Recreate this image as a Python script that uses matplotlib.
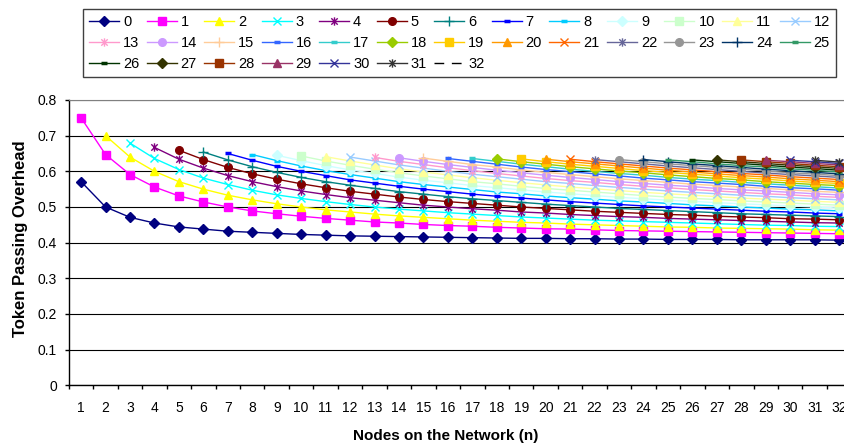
import matplotlib.pyplot as plt
from matplotlib.path import Path

plt.rcParams['font.family'] = ['Liberation Sans', 'DejaVu Sans']

nodes = [1, 2, 3, 4, 5, 6, 7, 8, 9, 10, 11, 12, 13, 14, 15, 16,
         17, 18, 19, 20, 21, 22, 23, 24, 25, 26, 27, 28, 29, 30, 31, 32]
node_labels = ['1', '2', '3', '4', '5', '6', '7', '8', '9', '10', '11', '12', '13', '14', '15', '16',
               '17', '18', '19', '20', '21', '22', '23', '24', '25', '26', '27', '28', '29', '30', '31', '32']
series_labels = ['0', '1', '2', '3', '4', '5', '6', '7', '8', '9', '10', '11', '12', '13', '14', '15', '16',
                 '17', '18', '19', '20', '21', '22', '23', '24', '25', '26', '27', '28', '29', '30', '31', '32']
y_ticks = [0, 0.1, 0.2, 0.3, 0.4, 0.5, 0.6, 0.7, 0.8]
y_tick_labels = ['0', '0.1', '0.2', '0.3', '0.4', '0.5', '0.6', '0.7', '0.8']

# each series ends at n = 32, it starts later the higher its number
s0 = [0.571, 0.500, 0.471, 0.455, 0.444, 0.438, 0.432, 0.429, 0.426, 0.423, 0.421, 0.419, 0.418, 0.417, 0.416, 0.415,
      0.414, 0.413, 0.412, 0.412, 0.411, 0.411, 0.410, 0.410, 0.409, 0.409, 0.409, 0.408, 0.408, 0.408, 0.408, 0.407]
s1 = [0.750, 0.647, 0.591, 0.556, 0.531, 0.514, 0.500, 0.489, 0.481, 0.474, 0.468, 0.463, 0.458, 0.455, 0.451, 0.448,
      0.446, 0.443, 0.441, 0.439, 0.438, 0.436, 0.434, 0.433, 0.432, 0.431, 0.430, 0.429, 0.428, 0.427, 0.426, 0.425]
s2 = [0.700, 0.640, 0.600, 0.571, 0.550, 0.533, 0.520, 0.509, 0.500, 0.492, 0.486, 0.480, 0.475, 0.471, 0.467, 0.463,
      0.460, 0.457, 0.455, 0.452, 0.450, 0.448, 0.446, 0.444, 0.443, 0.441, 0.440, 0.439, 0.438, 0.436, 0.435]
s3 = [0.679, 0.636, 0.605, 0.581, 0.563, 0.547, 0.534, 0.524, 0.515, 0.507, 0.500, 0.494, 0.489, 0.484, 0.480,
      0.476, 0.472, 0.469, 0.466, 0.463, 0.461, 0.459, 0.457, 0.455, 0.453, 0.451, 0.449, 0.448, 0.446, 0.445]
s4 = [0.667, 0.634, 0.609, 0.588, 0.571, 0.557, 0.545, 0.535, 0.526, 0.519, 0.512, 0.505, 0.500, 0.495, 0.491,
      0.486, 0.483, 0.479, 0.476, 0.473, 0.471, 0.468, 0.466, 0.464, 0.462, 0.460, 0.458, 0.456, 0.455]
s5 = [0.659, 0.633, 0.611, 0.593, 0.578, 0.565, 0.554, 0.544, 0.536, 0.528, 0.521, 0.515, 0.510, 0.505,
      0.500, 0.496, 0.492, 0.488, 0.485, 0.482, 0.479, 0.477, 0.474, 0.472, 0.470, 0.467, 0.466, 0.464]
s6 = [0.654, 0.632, 0.613, 0.597, 0.583, 0.571, 0.561, 0.552, 0.543, 0.536, 0.529, 0.523, 0.518, 0.513,
      0.508, 0.504, 0.500, 0.496, 0.493, 0.490, 0.487, 0.484, 0.481, 0.479, 0.477, 0.475, 0.473]
s7 = [0.650, 0.631, 0.614, 0.600, 0.588, 0.576, 0.567, 0.558, 0.550, 0.543, 0.536, 0.530, 0.525,
      0.520, 0.515, 0.511, 0.507, 0.503, 0.500, 0.497, 0.494, 0.491, 0.488, 0.486, 0.483, 0.481]
s8 = [0.647, 0.630, 0.615, 0.602, 0.591, 0.581, 0.571, 0.563, 0.556, 0.549, 0.542, 0.537, 0.531,
      0.526, 0.522, 0.517, 0.514, 0.510, 0.506, 0.503, 0.500, 0.497, 0.494, 0.492, 0.489]
s9 = [0.645, 0.630, 0.616, 0.604, 0.594, 0.584, 0.575, 0.568, 0.560, 0.554, 0.548, 0.542,
      0.537, 0.532, 0.527, 0.523, 0.519, 0.516, 0.512, 0.509, 0.506, 0.503, 0.500, 0.497]
s10 = [0.643, 0.629, 0.617, 0.606, 0.596, 0.587, 0.579, 0.571, 0.565, 0.558, 0.552, 0.547,
       0.542, 0.537, 0.532, 0.528, 0.524, 0.521, 0.517, 0.514, 0.511, 0.508, 0.505]
s11 = [0.641, 0.629, 0.618, 0.607, 0.598, 0.590, 0.582, 0.575, 0.568, 0.562, 0.556,
       0.551, 0.546, 0.541, 0.537, 0.533, 0.529, 0.525, 0.522, 0.519, 0.516, 0.513]
s12 = [0.640, 0.629, 0.618, 0.609, 0.600, 0.592, 0.585, 0.578, 0.571, 0.566, 0.560,
       0.555, 0.550, 0.545, 0.541, 0.537, 0.533, 0.530, 0.526, 0.523, 0.520]
s13 = [0.639, 0.628, 0.619, 0.610, 0.602, 0.594, 0.587, 0.580, 0.574, 0.569,
       0.563, 0.558, 0.554, 0.549, 0.545, 0.541, 0.537, 0.534, 0.530, 0.527]
s14 = [0.638, 0.628, 0.619, 0.611, 0.603, 0.596, 0.589, 0.583, 0.577, 0.571,
       0.566, 0.561, 0.557, 0.552, 0.548, 0.545, 0.541, 0.537, 0.534]
s15 = [0.637, 0.628, 0.619, 0.612, 0.604, 0.597, 0.591, 0.585, 0.579,
       0.574, 0.569, 0.564, 0.560, 0.556, 0.552, 0.548, 0.544, 0.541]
s16 = [0.636, 0.628, 0.620, 0.612, 0.605, 0.599, 0.593, 0.587, 0.581,
       0.576, 0.571, 0.567, 0.563, 0.558, 0.554, 0.551, 0.547]
s17 = [0.636, 0.628, 0.620, 0.613, 0.606, 0.600, 0.594, 0.589,
       0.583, 0.578, 0.574, 0.569, 0.565, 0.561, 0.557, 0.553]
s18 = [0.635, 0.627, 0.620, 0.613, 0.607, 0.601, 0.596, 0.590,
       0.585, 0.580, 0.576, 0.571, 0.567, 0.563, 0.560]
s19 = [0.635, 0.627, 0.620, 0.614, 0.608, 0.602, 0.597,
       0.592, 0.587, 0.582, 0.578, 0.573, 0.569, 0.566]
s20 = [0.634, 0.627, 0.621, 0.615, 0.609, 0.603, 0.598,
       0.593, 0.588, 0.584, 0.579, 0.575, 0.571]
s21 = [0.634, 0.627, 0.621, 0.615, 0.609, 0.604, 0.599, 0.594, 0.590, 0.585, 0.581, 0.577]
s22 = [0.633, 0.627, 0.621, 0.615, 0.610, 0.605, 0.600, 0.595, 0.591, 0.587, 0.583]
s23 = [0.633, 0.627, 0.621, 0.616, 0.611, 0.606, 0.601, 0.596, 0.592, 0.588]
s24 = [0.633, 0.627, 0.621, 0.616, 0.611, 0.606, 0.602, 0.597, 0.593]
s25 = [0.632, 0.627, 0.621, 0.616, 0.612, 0.607, 0.603, 0.598]
s26 = [0.632, 0.627, 0.622, 0.617, 0.612, 0.608, 0.603]
s27 = [0.632, 0.627, 0.622, 0.617, 0.613, 0.608]
s28 = [0.632, 0.627, 0.622, 0.617, 0.613]
s29 = [0.631, 0.627, 0.622, 0.618]
s30 = [0.631, 0.627, 0.622]
s31 = [0.631, 0.626]
s32 = [0.631]

all_series = [s0, s1, s2, s3, s4, s5, s6, s7, s8, s9, s10, s11, s12, s13, s14, s15, s16,
              s17, s18, s19, s20, s21, s22, s23, s24, s25, s26, s27, s28, s29, s30, s31, s32]

# excel 2003 default series colours
line_colors = ['#000080', '#FF00FF', '#FFFF00', '#00FFFF', '#800080', '#800000', '#008080', '#0000FF',
               '#00CCFF', '#CCFFFF', '#CCFFCC', '#FFFF99', '#99CCFF', '#FF99CC', '#CC99FF', '#FFCC99',
               '#3366FF', '#33CCCC', '#99CC00', '#FFCC00', '#FF9900', '#FF6600', '#666699', '#969696',
               '#003366', '#339966', '#003300', '#333300', '#993300', '#993366', '#333399', '#333333',
               '#000000']

# excel "star" marker: an x with a vertical bar through it
STAR = Path([(-1, -1), (1, 1), (-1, 1), (1, -1), (0, -1.3), (0, 1.3)],
            [Path.MOVETO, Path.LINETO, Path.MOVETO, Path.LINETO, Path.MOVETO, Path.LINETO])
marker_cycle = ['D', 's', '^', 'x', STAR, 'o', '+', '_', '_']
marker_size = {'D': 5, 's': 5.5, '^': 6, 'x': 5.5, 'o': 5.5, '+': 7, '_': 4.5}
marker_width = {'D': 1, 's': 1, '^': 1, 'x': 1, 'o': 1, '+': 1, '_': 2.5}

fig = plt.figure(figsize=(8.45, 4.46), dpi=100)
ax = fig.add_axes([0.0815, 0.1361, 0.926, 0.6397])

for i, (vals, label, color) in enumerate(zip(all_series, series_labels, line_colors)):
    xs = nodes[len(nodes) - len(vals):]
    if i == 32:
        ax.plot(xs, vals, color=color, lw=1, dashes=(7, 5.5), label=label)
        continue
    m = marker_cycle[i % 9]
    key = 'star' if m is STAR else m
    ax.plot(xs, vals, color=color, lw=1, marker=m,
            ms=marker_size.get(key, 6), mew=marker_width.get(key, 1),
            mfc=color, mec=color, label=label)

ax.set_xlim(0.5, 32.5)
ax.set_ylim(0, 0.8)
ax.set_yticks(y_ticks)
ax.set_yticklabels(y_tick_labels)
ax.set_xticks([n - 0.5 for n in nodes] + [nodes[-1] + 0.5])
ax.set_xticklabels([])
ax.set_xticks(nodes, minor=True)
ax.set_xticklabels(node_labels, minor=True)
ax.tick_params(axis='x', which='major', length=3, width=1, direction='out')
ax.tick_params(axis='x', which='minor', length=0, pad=11, labelsize=10)
ax.tick_params(axis='y', length=3, width=1, pad=5.5, labelsize=10)

ax.yaxis.grid(True, color='black', lw=0.8)
ax.set_axisbelow(True)
ax.spines['top'].set_color('#808080')
ax.spines['right'].set_visible(False)
ax.spines['left'].set_linewidth(1)
ax.spines['bottom'].set_linewidth(1)

fig.text(446 / 845, 1 - 440 / 446, 'Nodes on the Network (n)', ha='center', va='baseline',
         fontsize=11, fontweight='bold')
fig.text(25 / 845, 1 - 239 / 446, 'Token Passing Overhead', rotation=90, rotation_mode='anchor',
         ha='center', va='baseline', fontsize=12, fontweight='bold')

# legend fills column by column, reorder so that it reads row by row like excel
handles, labels = ax.get_legend_handles_labels()
order = []
for c in range(13):
    for r in range(3):
        k = c + 13 * r
        if k < len(handles):
            order.append(k)
leg = fig.legend([handles[k] for k in order], [labels[k] for k in order],
                 loc='upper left', bbox_to_anchor=(83 / 845, 1 - 9 / 446), ncol=13,
                 fontsize=10.5, handlelength=2.06, handletextpad=0.27, columnspacing=0.5,
                 borderpad=0.41, labelspacing=0.49, numpoints=1, fancybox=False,
                 framealpha=1, borderaxespad=0, edgecolor='#404040')
leg.get_frame().set_linewidth(1)

fig.savefig('out.png', dpi=100)
